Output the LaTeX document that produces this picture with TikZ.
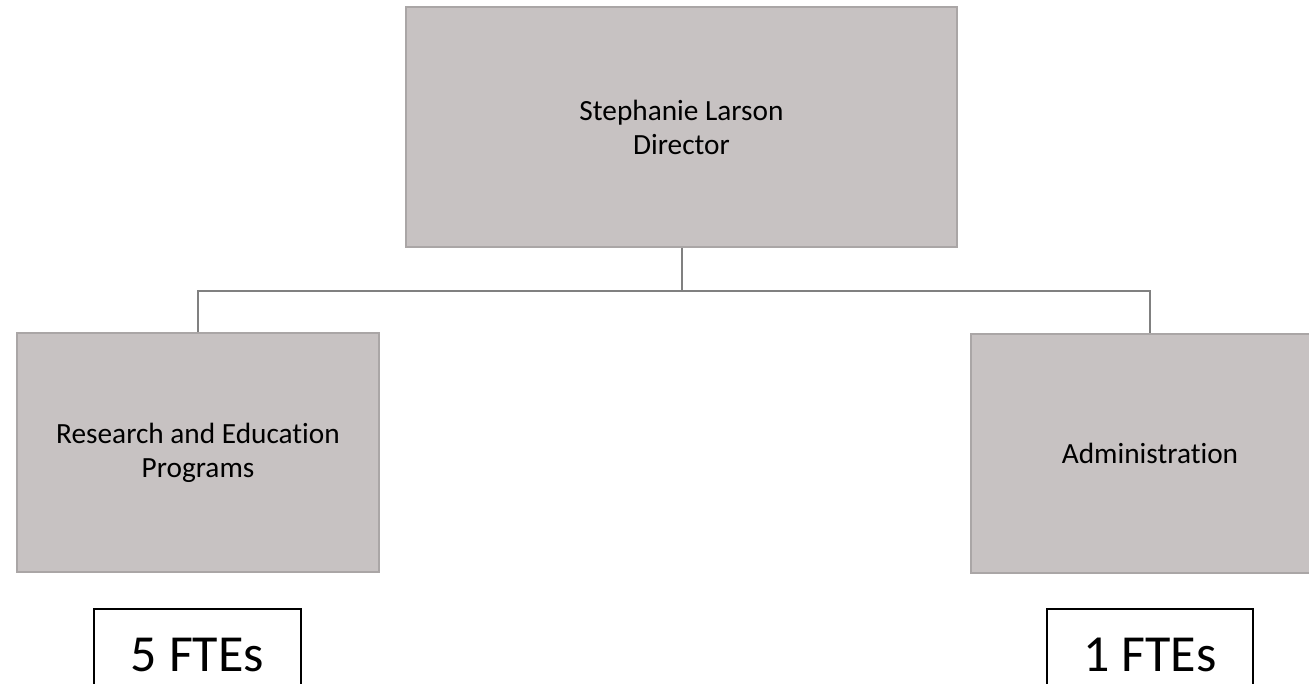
\documentclass[tikz,border=0pt]{standalone}
\usepackage{fontspec}
\setmainfont{Carlito}[Ligatures=NoCommon]
\begin{document}
\begin{tikzpicture}[x=1pt,y=-1pt,
  unit/.style={draw=boxedge, line width=1.3pt, fill=boxfill, inner sep=0pt,
    align=center, font=\fontsize{29.3}{34}\selectfont},
  link/.style={draw=linkgrey, line width=2pt},
  count/.style={draw=black, line width=2pt, inner sep=0pt,
    font=\fontsize{52}{60}\selectfont}]
\definecolor{boxfill}{HTML}{C7C2C2}
\definecolor{boxedge}{HTML}{AAA6A6}
\definecolor{linkgrey}{HTML}{808080}
\useasboundingbox (0,0) rectangle (1309,683);
\clip (0,0) rectangle (1309,683);

% reporting boxes
\node[unit, minimum width=551pt, minimum height=240pt] (dir) at (681.5,127)
  {Stephanie Larson\\Director};
\node[unit, minimum width=362pt, minimum height=239pt] (res) at (198,452.5)
  {Research and Education\\Programs};
\node[unit, minimum width=358pt, minimum height=239pt] (adm) at (1150,453.5)
  {Administration};

% tree connectors
\coordinate (bus) at (681.5,291);
\draw[link] (dir.south) -- (bus);
\draw[link] (res.north) |- (bus) -| (adm.north);

% head-count boxes, running off the lower edge
\node[count, minimum width=207pt, minimum height=150pt, anchor=north] (resn) at (197.5,608) {};
\node[count, minimum width=206pt, minimum height=150pt, anchor=north] (admn) at (1150,608) {};
\node[font=\fontsize{52}{60}\selectfont, anchor=base] (resl) at (197.5,671) {5 FTEs};
\node[font=\fontsize{52}{60}\selectfont, anchor=base] (adml) at (1150,671) {1 FTEs};
\end{tikzpicture}
\end{document}
